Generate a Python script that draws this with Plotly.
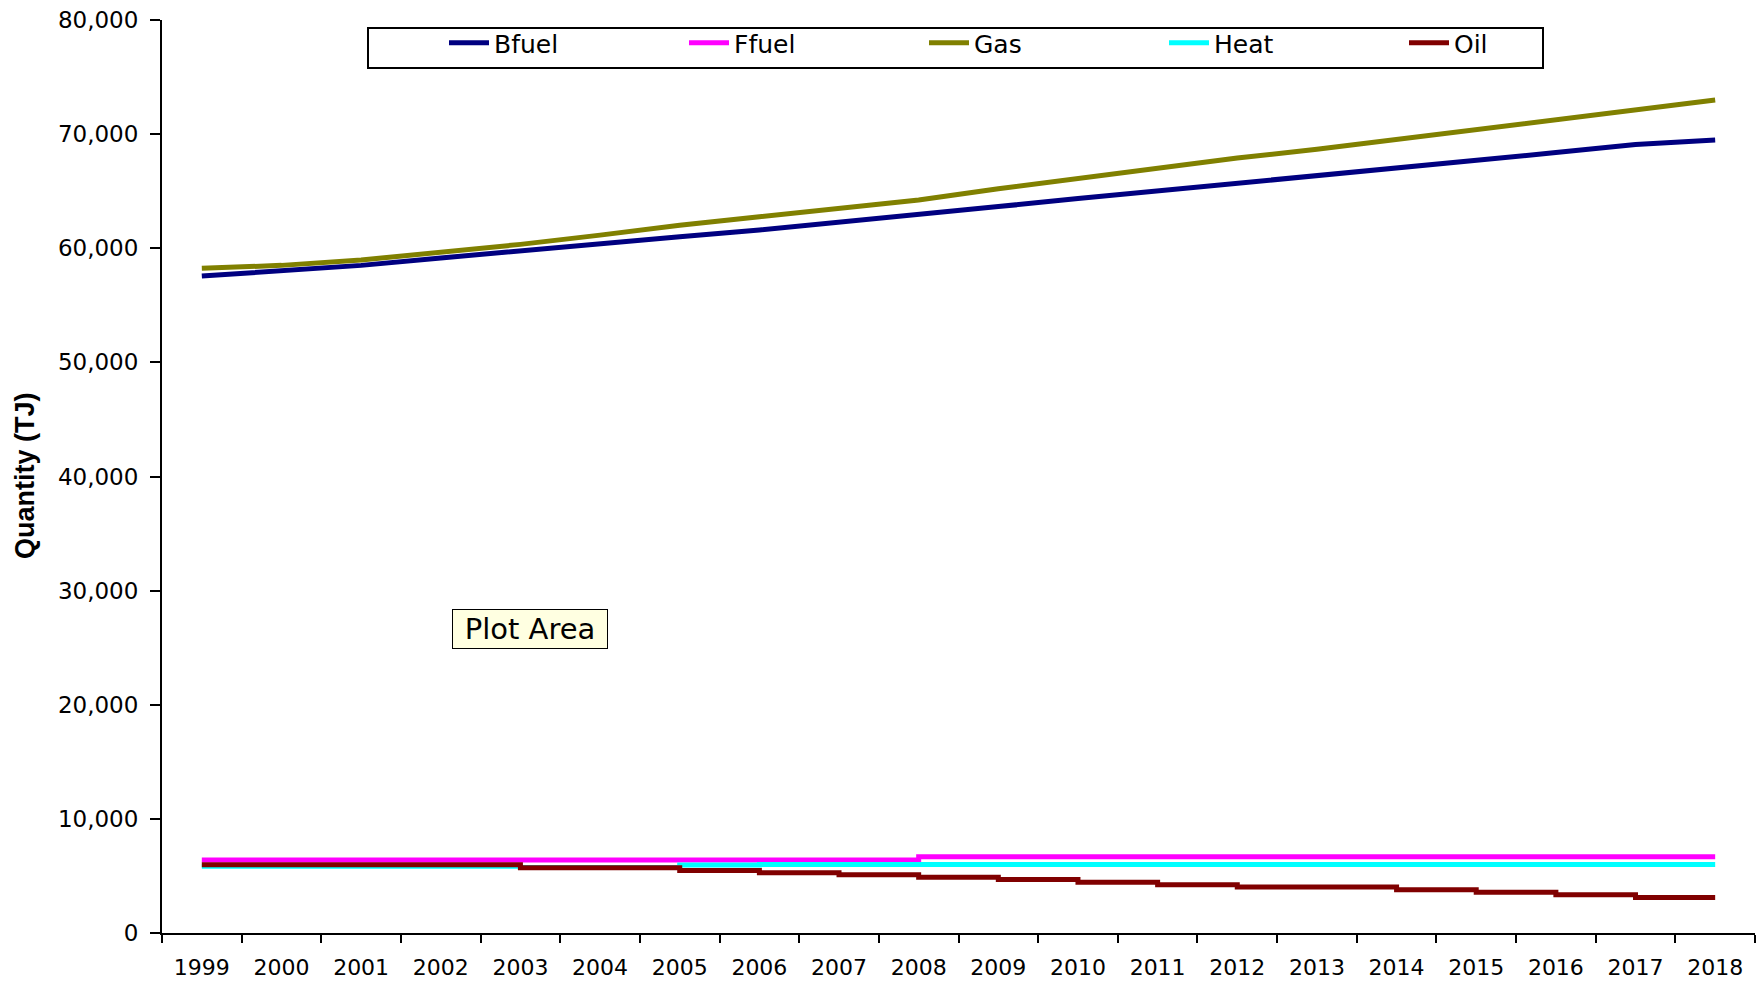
import plotly.graph_objects as go

years = [1999, 2000, 2001, 2002, 2003, 2004, 2005, 2006, 2007, 2008,
         2009, 2010, 2011, 2012, 2013, 2014, 2015, 2016, 2017, 2018]
year_labels = [str(y) for y in years]

bfuel = [57560, 58000, 58500, 59150, 59800, 60400, 61000, 61600, 62250, 62950,
         63650, 64350, 65020, 65680, 66330, 66980, 67640, 68380, 69100, 69480]
ffuel = [6400, 6400, 6400, 6400, 6400, 6400, 6400, 6400, 6400, 6680,
         6680, 6680, 6680, 6680, 6680, 6680, 6680, 6680, 6680, 6680]
gas = [58240, 58500, 58970, 59650, 60340, 61150, 62010, 62760, 63470, 64230,
       65220, 66100, 66980, 67900, 68670, 69540, 70420, 71360, 72230, 72990]
heat = [5850, 5850, 5850, 5850, 5750, 5750, 5950, 6000, 6000, 6000,
        6000, 6000, 6000, 6000, 6000, 6000, 6000, 6000, 6000, 6000]
oil = [5990, 5990, 5990, 5990, 5710, 5710, 5480, 5280, 5100, 4890,
       4690, 4450, 4220, 4020, 4020, 3790, 3580, 3350, 3110, 3110]

y_ticks = [0, 10000, 20000, 30000, 40000, 50000, 60000, 70000, 80000]

FONT = "DejaVu Sans"
LW = 5

W, H = 1762, 981
L, R, T, B = 162, 7, 20, 48
PW = W - L - R
PH = H - T - B


def px(sx):
    return (sx - L) / PW


def py(sy):
    return 1 - (sy - T) / PH


fig = go.Figure()
fig.add_trace(go.Scatter(x=years, y=bfuel, name="Bfuel", mode="lines",
                         line=dict(color="#000080", width=LW)))
fig.add_trace(go.Scatter(x=years, y=ffuel, name="Ffuel", mode="lines",
                         line=dict(color="#FF00FF", width=LW, shape="hv")))
fig.add_trace(go.Scatter(x=years, y=gas, name="Gas", mode="lines",
                         line=dict(color="#808000", width=LW)))
fig.add_trace(go.Scatter(x=years, y=heat, name="Heat", mode="lines",
                         line=dict(color="#00FFFF", width=LW, shape="hv")))
fig.add_trace(go.Scatter(x=years, y=oil, name="Oil", mode="lines",
                         line=dict(color="#800000", width=LW, shape="hv")))

fig.update_layout(
    width=W, height=H,
    margin=dict(l=L, r=R, t=T, b=B, autoexpand=False),
    paper_bgcolor="white", plot_bgcolor="white",
    font=dict(family=FONT, size=22, color="black"),
    showlegend=True,
    legend=dict(
        orientation="h", x=px(444), y=py(43), xanchor="left", yanchor="middle",
        bgcolor="rgba(0,0,0,0)", borderwidth=0,
        font=dict(family=FONT, size=25, color="black"),
        entrywidth=185, entrywidthmode="pixels", itemwidth=40,
    ),
    shapes=[
        dict(type="rect", xref="paper", yref="paper",
             x0=px(368), x1=px(1543), y0=py(68), y1=py(28),
             line=dict(color="black", width=2), fillcolor="white", layer="below"),
    ],
    annotations=[
        dict(text="<b>Quantity (TJ)</b>", textangle=-90, showarrow=False,
             xref="paper", yref="paper", x=px(25), y=py(476),
             xanchor="center", yanchor="middle",
             font=dict(family="Liberation Sans", size=27, color="black")),
        dict(text="Plot Area", showarrow=False,
             xref="paper", yref="paper", x=px(530), y=py(629),
             xanchor="center", yanchor="middle", width=150, height=34,
             bgcolor="#FFFFE1", bordercolor="black", borderwidth=1, borderpad=2,
             font=dict(family=FONT, size=29, color="black")),
    ],
)

fig.update_xaxes(
    range=[1998.5, 2018.5], tickvals=years, ticktext=year_labels,
    showline=True, linecolor="black", linewidth=2, showgrid=False, zeroline=False,
    ticks="outside", ticklen=14, tickcolor="rgba(0,0,0,0)", automargin=False,
    tickfont=dict(family=FONT, size=22, color="black"),
    minor=dict(tick0=1998.5, dtick=1, ticks="outside", ticklen=8, tickwidth=2,
               tickcolor="black", showgrid=False),
)
fig.update_yaxes(
    range=[0, 80000], tickvals=y_ticks, tickformat=",d",
    showline=True, linecolor="black", linewidth=2, showgrid=False, zeroline=False,
    ticks="outside", ticklen=10, tickwidth=2, tickcolor="black", automargin=False,
    ticklabelstandoff=7,
    tickfont=dict(family=FONT, size=23, color="black"),
)

fig.write_html("out.html", config={"displayModeBar": False},
               post_script="document.body.style.margin='0px';")
